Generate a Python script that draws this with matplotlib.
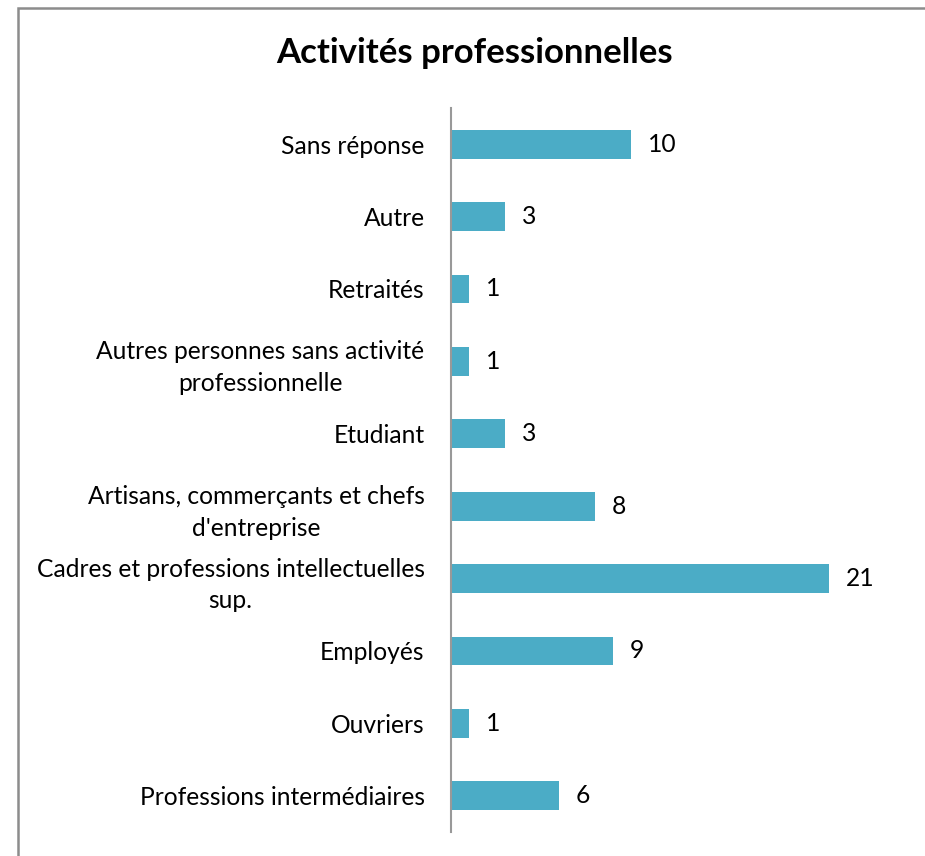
import matplotlib.pyplot as plt
from matplotlib.patches import Rectangle

categories = ["Professions intermédiaires", "Ouvriers", "Employés",
              "Cadres et professions intellectuelles\nsup.",
              "Artisans, commerçants et chefs\nd'entreprise",
              "Etudiant",
              "Autres personnes sans activité\nprofessionnelle",
              "Retraités", "Autre", "Sans réponse"]
values = [6, 1, 9, 21, 8, 3, 1, 1, 3, 10]

plt.rcParams['font.family'] = ['Lato', 'DejaVu Sans']

fig = plt.figure(figsize=(9.25, 8.56), dpi=100)
fig.patches.append(Rectangle((18 / 925, -0.1), 1.0, 1 - 8 / 856 + 0.1,
                             transform=fig.transFigure, fill=False,
                             edgecolor='#8c8c8c', linewidth=1.8))

ax = fig.add_axes([451 / 925, 24 / 856, 450 / 925, 724 / 856])
y = range(len(categories))
bars = ax.barh(y, values, height=0.4, color='#4BACC6')
ax.set_xlim(0, 25)
ax.set_ylim(-0.5, len(categories) - 0.5)
ax.set_yticks(list(y))
ax.set_yticklabels(categories, fontsize=17.7, ma='center', linespacing=1.45)
ax.tick_params(axis='y', length=0, pad=19)
ax.set_xticks([])
for s in ['top', 'right', 'bottom']:
    ax.spines[s].set_visible(False)
ax.spines['left'].set_color('#999999')
ax.spines['left'].set_linewidth(1.5)

for i, v in enumerate(values):
    ax.annotate(str(v), (v, i), xytext=(12, 0), textcoords='offset points',
                va='center', ha='left', fontsize=17.7)

fig.text(474 / 925, 1 - 53 / 856, "Activités professionnelles",
         ha='center', va='center', fontsize=25, fontweight='bold')

fig.savefig('out.png', dpi=100)
